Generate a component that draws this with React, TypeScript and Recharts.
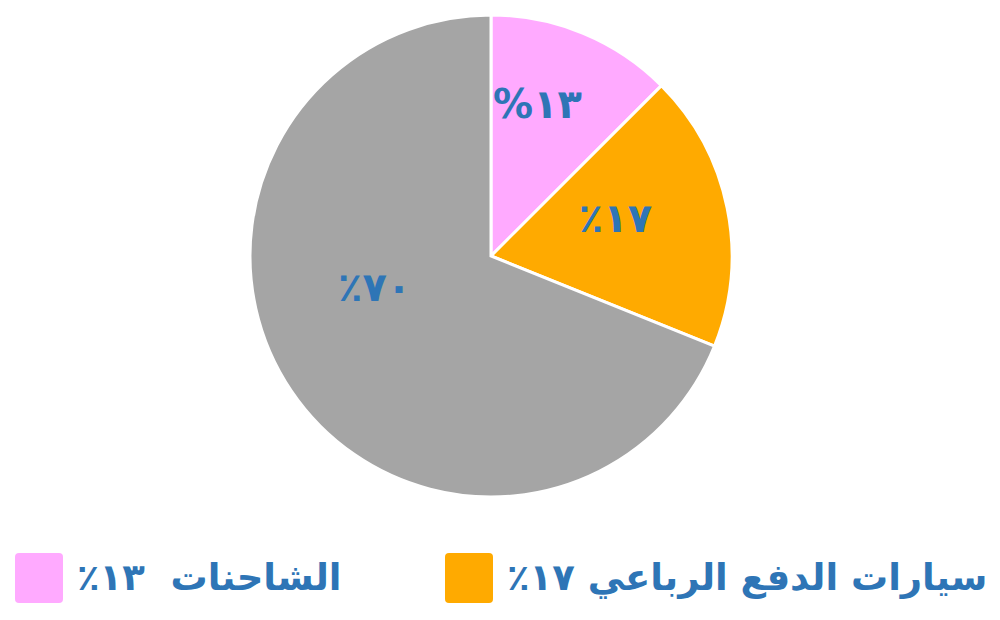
import React from "react";
import { PieChart, Pie, Cell, Legend } from "recharts";

const categories = ["الشاحنات", "سيارات الدفع الرباعي", "أخرى"];
const values = [12.5, 18.6, 68.9];
const sliceLabels = ["١٣%", "١٧٪", "٧٠٪"];
const legendLabels = ["الشاحنات  ١٣٪", "سيارات الدفع الرباعي ١٧٪"];
const colors = ["#FFAAFF", "#FFAA00", "#A5A5A5"];
const labelRadius = [0.66, 0.54, 0.5];
const labelAngleShift = [5.5, 5.5, -19];

const data = categories.map((name, i) => ({ name, value: values[i] }));

const TEXT_BLUE = "#2E75B6";
const FONT = "'DejaVu Sans', sans-serif";
const RAD = Math.PI / 180;

const renderLabel = (props: any) => {
  const { cx, cy, midAngle, outerRadius, index } = props;
  const a = (midAngle + labelAngleShift[index]) * RAD;
  const r = outerRadius * labelRadius[index];
  const x = cx + r * Math.cos(-a);
  const y = cy + r * Math.sin(-a);
  return (
    <text
      x={x}
      y={y}
      textAnchor="middle"
      dominantBaseline="central"
      direction="rtl"
      fill={TEXT_BLUE}
      fontFamily={FONT}
      fontWeight="bold"
      fontSize={40}
    >
      {sliceLabels[index]}
    </text>
  );
};

const renderLegend = () => {
  const xs = [15, 445];
  return (
    <div style={{ position: "relative", width: 1000, height: 70 }}>
      {legendLabels.map((t, i) => (
        <div
          key={i}
          style={{
            position: "absolute",
            left: xs[i],
            top: 0,
            display: "flex",
            alignItems: "center",
            height: 52,
          }}
        >
          <div
            style={{
              width: 48,
              height: 50,
              background: colors[i],
              borderRadius: 4,
            }}
          />
          <div
            dir="rtl"
            style={{
              marginLeft: 14,
              color: TEXT_BLUE,
              fontFamily: FONT,
              fontWeight: "bold",
              fontSize: 37,
              whiteSpace: "pre",
              lineHeight: "52px",
            }}
          >
            {t}
          </div>
        </div>
      ))}
    </div>
  );
};

export default function App() {
  return (
    <div style={{ position: "fixed", left: 0, top: 0, width: 1000, height: 620, background: "#fff" }}>
      <PieChart width={1000} height={620} margin={{ top: 0, right: 0, bottom: 0, left: 0 }}>
        <Pie
          data={data}
          dataKey="value"
          nameKey="name"
          cx={491}
          cy={256}
          outerRadius={241}
          startAngle={90}
          endAngle={-270}
          stroke="#FFFFFF"
          strokeWidth={3}
          label={renderLabel}
          labelLine={false}
          isAnimationActive={false}
        >
          {data.map((d, i) => (
            <Cell key={d.name} fill={colors[i]} />
          ))}
        </Pie>
        <Legend
          content={renderLegend}
          wrapperStyle={{ position: "absolute", left: 0, top: 552, width: 1000 }}
        />
      </PieChart>
    </div>
  );
}
